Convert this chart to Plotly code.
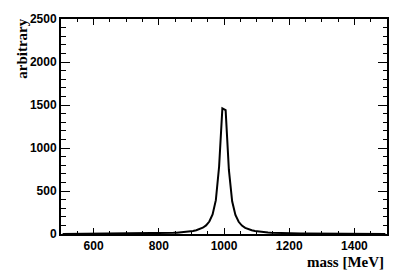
import plotly.graph_objects as go

# histogram bin centers (100 bins of 10 MeV from 500 to 1500)
bin_centers = list(range(505, 1500, 10))

# bin contents
counts_left = [1.3, 1.4, 1.4, 1.5, 1.6, 1.6, 1.7, 1.8, 1.9, 2.0,
               2.1, 2.2, 2.3, 2.4, 2.6, 2.7, 2.9, 3.0, 3.2, 3.5,
               3.7, 4.0, 4.3, 4.6, 4.9, 5.4, 5.8, 6.3, 6.9, 7.6,
               8.4, 9.4, 10.5, 11.8, 13.3, 15.2, 17.5, 20, 24, 29,
               35, 43, 55, 73, 100, 145, 227, 393, 785, 1460]
counts_right = [1440, 745, 380, 222, 142, 98, 72, 55, 43, 35,
                29, 24, 20, 17.5, 15.2, 13.3, 11.8, 10.5, 9.4, 8.4,
                7.6, 6.9, 6.3, 5.8, 5.4, 4.9, 4.6, 4.3, 4.0, 3.7,
                3.5, 3.2, 3.0, 2.9, 2.7, 2.6, 2.4, 2.3, 2.2, 2.1,
                2.0, 1.9, 1.8, 1.7, 1.6, 1.6, 1.5, 1.4, 1.4, 1.3]
counts = counts_left + counts_right

x_title = "mass [MeV]"
y_title = "arbitrary"

fig = go.Figure()
fig.add_trace(go.Scatter(x=bin_centers, y=counts, mode="lines",
                         line=dict(color="black", width=2), hoverinfo="skip"))

tickfont = dict(family="Liberation Sans, Arial, sans-serif", size=12, color="black", weight="bold")
axis_common = dict(showgrid=False, zeroline=False, showline=True, linewidth=2,
                   linecolor="black", mirror="ticks", ticks="inside",
                   tickcolor="black", tickwidth=1, tickfont=tickfont)

fig.update_layout(
    width=407, height=276,
    margin=dict(l=61, r=20, t=15, b=42),
    plot_bgcolor="white", paper_bgcolor="white",
    showlegend=False,
    xaxis=dict(range=[500, 1500], tickmode="linear", tick0=0, dtick=200, ticklen=6,
               minor=dict(tick0=0, dtick=50, ticklen=3, ticks="inside", tickcolor="black"),
               **axis_common),
    yaxis=dict(range=[0, 2500], tickmode="linear", tick0=0, dtick=500, ticklen=9,
               minor=dict(tick0=0, dtick=100, ticklen=4.5, ticks="inside", tickcolor="black"),
               **axis_common),
    annotations=[
        dict(text=y_title, xref="paper", yref="paper", x=-0.12, y=1.01,
             xanchor="center", yanchor="top", textangle=-90, showarrow=False,
             font=dict(family="Liberation Serif, Times New Roman, serif", size=15,
                       color="black", weight="bold")),
        dict(text=x_title, xref="paper", yref="paper", x=0.997, y=-0.128,
             xanchor="right", yanchor="middle", showarrow=False,
             font=dict(family="Liberation Serif, Times New Roman, serif", size=15,
                       color="black", weight="bold")),
    ],
)

fig.write_html("out.html", config={"displayModeBar": False},
               post_script="document.body.style.margin='0';")
